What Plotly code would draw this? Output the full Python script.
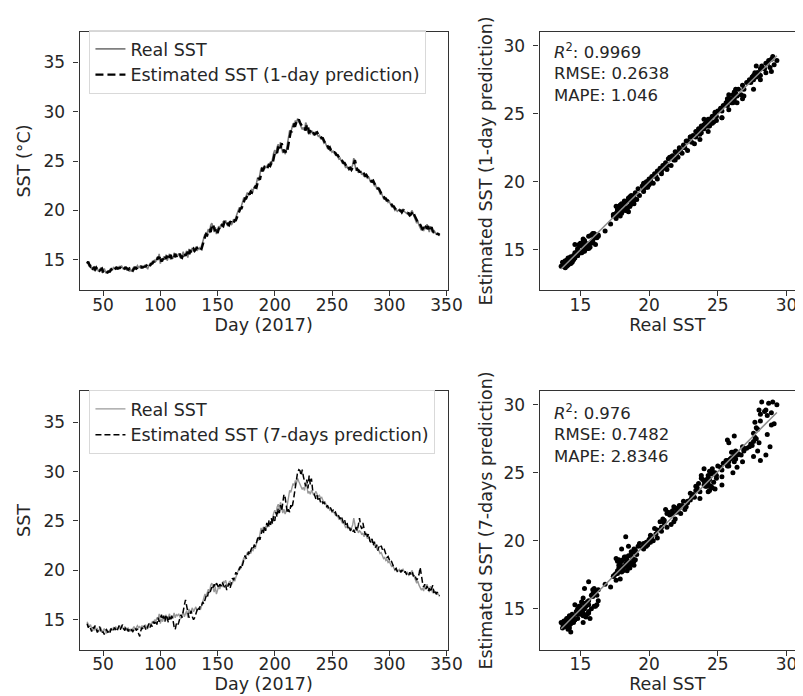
import numpy as np
import plotly.graph_objects as go

# ---------------- data ----------------
days = list(range(36, 345))

real_sst = [
    14.8, 14.6, 14.3, 14.5, 14.1, 14.2, 13.9, 14.3, 14.0, 14.1,
    13.8, 14.0, 14.2, 13.7, 13.9, 14.1, 13.8, 13.6, 13.9, 13.7,
    14.0, 14.1, 13.9, 14.2, 14.1, 14.3, 14.0, 14.2, 14.3, 14.1,
    14.4, 14.2, 14.0, 14.3, 14.1, 13.9, 14.2, 13.8, 14.0, 13.8,
    14.1, 14.3, 14.0, 14.2, 14.4, 14.2, 14.3, 14.1, 14.4, 14.2,
    14.3, 14.5, 14.2, 14.1, 14.4, 14.6, 14.5, 14.8, 14.7, 15.0,
    14.8, 15.2, 15.0, 15.6, 14.6, 15.1, 14.8, 15.3, 15.0, 15.5,
    14.9, 15.2, 15.6, 15.0, 15.3, 15.1, 15.7, 15.2, 15.5, 15.4,
    15.6, 15.3, 15.1, 15.4, 15.8, 15.3, 15.6, 15.9, 15.2, 16.1,
    15.6, 15.9, 16.2, 15.8, 16.0, 16.3, 15.9, 16.1, 16.2, 16.0,
    16.3, 16.8, 17.2, 17.6, 17.4, 17.9, 18.1, 17.7, 18.5, 18.7,
    18.2, 17.8, 18.3, 17.6, 18.0, 18.4, 18.1, 18.6, 18.3, 18.9,
    18.7, 19.0, 18.6, 18.4, 18.8, 18.9, 18.5, 18.7, 19.1, 18.9,
    19.3, 19.6, 19.9, 20.3, 20.1, 20.6, 20.9, 21.3, 21.1, 21.6,
    21.8, 21.5, 21.9, 21.7, 22.1, 22.0, 22.4, 22.2, 22.8, 23.3,
    23.0, 23.7, 24.3, 24.0, 24.4, 24.2, 24.5, 24.3, 24.7, 24.4,
    24.9, 24.6, 25.3, 25.8, 26.1, 25.7, 26.4, 26.7, 26.2, 26.9,
    26.3, 25.8, 26.2, 25.7, 26.0, 26.8, 27.6, 28.1, 27.9, 28.5,
    28.8, 28.6, 29.1, 28.9, 29.3, 29.0, 28.7, 28.5, 28.2, 28.4,
    28.1, 28.9, 28.6, 27.8, 28.0, 27.7, 28.1, 27.9, 27.6, 27.8,
    28.0, 27.7, 27.5, 27.6, 27.3, 27.4, 27.1, 26.8, 26.9, 26.5,
    26.3, 26.4, 26.1, 26.2, 25.9, 26.0, 25.8, 25.6, 25.7, 25.4,
    25.2, 25.3, 25.0, 24.8, 24.9, 24.6, 24.3, 24.5, 24.2, 24.4,
    24.1, 24.3, 24.6, 25.3, 24.8, 24.0, 24.2, 23.8, 24.0, 23.9,
    23.6, 23.8, 23.4, 23.7, 23.5, 23.2, 23.4, 23.0, 22.8, 23.1,
    22.7, 22.5, 22.6, 22.2, 22.3, 21.9, 21.7, 21.8, 21.4, 21.2,
    21.3, 21.0, 21.1, 20.8, 20.9, 20.6, 20.4, 20.5, 20.2, 20.0,
    20.1, 19.9, 20.0, 20.1, 19.8, 20.0, 20.1, 19.9, 19.8, 19.7,
    19.8, 19.5, 19.6, 19.8, 20.0, 19.6, 19.2, 19.0, 18.7, 18.9,
    18.5, 18.3, 18.0, 18.2, 17.9, 18.4, 18.1, 18.6, 18.0, 17.8,
    18.4, 17.9, 17.7, 18.0, 17.8, 17.6, 17.7, 17.5, 17.4,
]

est_1day = [
    14.6, 14.8, 14.5, 14.3, 14.4, 14.1, 14.2, 14.0, 14.2, 14.0,
    14.1, 13.9, 14.0, 14.1, 13.8, 13.9, 14.0, 13.8, 13.7, 13.8,
    13.8, 14.0, 14.1, 14.0, 14.2, 14.1, 14.2, 14.1, 14.2, 14.2,
    14.1, 14.3, 14.2, 14.1, 14.2, 14.1, 14.0, 14.1, 13.9, 14.0,
    13.9, 14.1, 14.2, 14.1, 14.2, 14.3, 14.2, 14.3, 14.2, 14.3,
    14.3, 14.3, 14.4, 14.2, 14.2, 14.4, 14.6, 14.6, 14.8, 14.8,
    15.0, 14.9, 15.3, 15.1, 15.4, 14.8, 15.1, 14.9, 15.3, 15.1,
    15.4, 15.0, 15.3, 15.5, 15.1, 15.3, 15.2, 15.6, 15.3, 15.5,
    15.4, 15.6, 15.3, 15.2, 15.5, 15.7, 15.4, 15.6, 15.8, 15.4,
    16.0, 15.7, 15.9, 16.1, 15.9, 16.0, 16.2, 16.0, 16.1, 16.2,
    16.1, 16.4, 16.9, 17.3, 17.6, 17.5, 17.9, 18.0, 17.8, 18.4,
    18.6, 18.2, 17.9, 18.2, 17.7, 18.1, 18.3, 18.2, 18.5, 18.4,
    18.8, 18.7, 18.9, 18.6, 18.5, 18.8, 18.8, 18.6, 18.7, 19.0,
    19.0, 19.3, 19.6, 19.9, 20.2, 20.2, 20.6, 20.9, 21.2, 21.2,
    21.6, 21.8, 21.6, 21.9, 21.8, 22.1, 22.1, 22.4, 22.3, 22.8,
    23.3, 23.1, 23.7, 24.2, 24.1, 24.4, 24.3, 24.5, 24.4, 24.6,
    24.5, 24.8, 24.7, 25.3, 25.8, 26.0, 25.8, 26.4, 26.6, 26.3,
    26.8, 26.4, 25.9, 26.1, 25.8, 26.1, 26.8, 27.5, 28.0, 28.0,
    28.4, 28.7, 28.6, 29.0, 28.9, 29.2, 28.9, 28.7, 28.5, 28.3,
    28.3, 28.1, 28.7, 28.5, 27.9, 28.0, 27.8, 28.0, 27.8, 27.7,
    27.8, 27.9, 27.7, 27.5, 27.5, 27.3, 27.3, 27.1, 26.8, 26.8,
    26.5, 26.3, 26.4, 26.1, 26.1, 25.9, 25.9, 25.8, 25.6, 25.6,
    25.4, 25.2, 25.2, 25.0, 24.8, 24.8, 24.6, 24.4, 24.5, 24.2,
    24.3, 24.1, 24.3, 24.7, 25.1, 24.6, 24.1, 24.1, 23.9, 23.9,
    23.9, 23.6, 23.7, 23.5, 23.6, 23.4, 23.3, 23.3, 23.0, 22.9,
    23.0, 22.7, 22.5, 22.5, 22.2, 22.2, 21.9, 21.7, 21.7, 21.4,
    21.2, 21.2, 21.0, 21.0, 20.8, 20.8, 20.6, 20.4, 20.4, 20.2,
    20.0, 20.0, 19.9, 20.0, 20.0, 19.8, 20.0, 20.0, 19.9, 19.8,
    19.7, 19.7, 19.5, 19.6, 19.8, 19.9, 19.5, 19.2, 19.0, 18.8,
    18.8, 18.5, 18.3, 18.1, 18.2, 18.0, 18.3, 18.2, 18.4, 18.0,
    17.9, 18.3, 17.9, 17.8, 17.9, 17.7, 17.6, 17.6, 17.5,
]

est_7day = [
    14.6, 14.2, 14.4, 14.0, 13.8, 14.3, 14.1, 14.4, 13.9, 13.7,
    14.0, 14.3, 13.9, 13.6, 13.8, 13.5, 13.9, 14.0, 13.7, 13.9,
    13.7, 14.1, 13.8, 13.9, 14.2, 14.0, 13.8, 14.1, 14.4, 14.0,
    14.2, 14.5, 14.1, 13.9, 14.3, 14.0, 13.8, 14.1, 13.9, 14.0,
    13.8, 14.0, 14.2, 13.9, 14.1, 13.6, 13.3, 13.9, 14.2, 14.0,
    14.4, 14.1, 13.9, 14.3, 14.6, 14.2, 14.5, 14.3, 14.8, 14.6,
    14.9, 14.5, 15.2, 14.8, 15.3, 15.5, 15.0, 15.4, 14.8, 15.5,
    15.2, 14.7, 15.3, 14.9, 15.4, 15.0, 14.3, 14.0, 14.6, 14.4,
    14.7, 15.0, 15.5, 15.2, 16.0, 16.5, 17.0, 16.4, 15.8, 15.2,
    15.6, 15.9, 15.3, 15.0, 15.2, 15.6, 16.1, 16.3, 16.0, 16.5,
    16.4, 16.8, 16.6, 17.1, 17.4, 17.2, 17.8, 17.6, 18.0, 18.3,
    18.1, 18.6, 18.3, 18.7, 18.5, 18.2, 18.6, 18.4, 18.8, 18.5,
    18.3, 18.6, 18.0, 18.4, 18.7, 18.2, 18.9, 19.2, 19.0, 19.4,
    19.8, 19.6, 19.9, 20.0, 20.4, 20.2, 20.7, 21.0, 21.5, 21.2,
    21.4, 21.9, 21.6, 22.0, 22.3, 22.1, 22.6, 22.4, 22.9, 23.2,
    23.5, 23.1, 23.6, 24.1, 23.7, 24.5, 24.0, 24.8, 24.3, 25.1,
    24.6, 25.3, 24.7, 25.5, 25.0, 25.9, 25.4, 26.3, 25.8, 26.6,
    26.0, 27.2, 27.7, 27.4, 26.5, 25.8, 26.2, 25.9, 26.6, 26.3,
    26.9, 27.8, 28.6, 29.4, 30.0, 30.2, 30.1, 29.6, 30.2, 29.5,
    28.8, 28.5, 29.2, 28.3, 29.6, 28.7, 29.3, 28.2, 27.9, 27.5,
    27.2, 27.6, 27.0, 27.3, 26.9, 27.1, 26.8, 26.9, 26.7, 26.4,
    26.6, 26.3, 26.5, 26.2, 26.0, 26.1, 25.8, 25.9, 25.5, 25.7,
    25.4, 25.2, 25.5, 25.0, 24.8, 25.1, 24.6, 24.9, 24.3, 24.5,
    24.0, 24.2, 23.9, 24.1, 23.8, 24.4, 24.0, 24.6, 25.3, 24.5,
    24.2, 24.8, 24.0, 23.6, 23.9, 23.4, 23.7, 23.0, 22.8, 23.2,
    22.5, 22.9, 22.3, 22.6, 22.0, 22.4, 22.2, 22.5, 22.1, 22.3,
    22.0, 21.6, 21.3, 21.4, 21.0, 20.8, 20.9, 20.5, 20.3, 20.1,
    20.2, 19.9, 20.0, 20.1, 19.8, 20.0, 19.9, 19.7, 19.9, 19.6,
    19.7, 19.5, 19.8, 19.6, 19.9, 19.4, 19.6, 19.3, 19.0, 19.2,
    19.6, 20.3, 19.4, 18.8, 18.3, 18.6, 18.1, 18.4, 17.9, 18.2,
    17.8, 18.1, 18.5, 17.7, 18.0, 17.6, 17.8, 17.5, 17.4,
]

day_ticks = [50, 100, 150, 200, 250, 300, 350]
sst_ticks = [15, 20, 25, 30, 35]
scatter_ticks = [15, 20, 25, 30]

metrics_1day = {"R2": "0.9969", "RMSE": "0.2638", "MAPE": "1.046"}
metrics_7day = {"R2": "0.976", "RMSE": "0.7482", "MAPE": "2.8346"}

assert len(days) == len(real_sst) == len(est_1day) == len(est_7day)

# ---------------- layout helpers ----------------
W, H = 803, 696
FONT = "DejaVu Sans"
TXT = "#262626"
AX = "#333333"
TICK_FS = 17
LAB_FS = 17.5


def dx(a, b):
    return [a / W, b / W]


def dy(top, bottom):
    return [1 - bottom / H, 1 - top / H]


fig = go.Figure()

# top-left time series
fig.add_trace(go.Scatter(x=days, y=real_sst, mode="lines", name="Real SST",
                         line=dict(color="#7f7f7f", width=1.6),
                         xaxis="x", yaxis="y", legend="legend"))
fig.add_trace(go.Scatter(x=days, y=est_1day, mode="lines",
                         name="Estimated SST (1-day prediction)",
                         line=dict(color="black", width=2.4, dash="8px,4px"),
                         xaxis="x", yaxis="y", legend="legend"))

# bottom-left time series
fig.add_trace(go.Scatter(x=days, y=real_sst, mode="lines", name="Real SST",
                         line=dict(color="#9a9a9a", width=1.4),
                         xaxis="x3", yaxis="y3", legend="legend2"))
fig.add_trace(go.Scatter(x=days, y=est_7day, mode="lines",
                         name="Estimated SST (7-days prediction)",
                         line=dict(color="black", width=1.5, dash="6px,3px"),
                         xaxis="x3", yaxis="y3", legend="legend2"))

# scatter panels
real_arr = np.array(real_sst)
for est, xa, ya in [(est_1day, "x2", "y2"), (est_7day, "x4", "y4")]:
    est_arr = np.array(est)
    fig.add_trace(go.Scatter(x=real_sst, y=est, mode="markers",
                             marker=dict(color="black", size=5),
                             showlegend=False, xaxis=xa, yaxis=ya))
    slope, inter = np.polyfit(real_arr, est_arr, 1)
    lx = [real_arr.min(), real_arr.max()]
    fig.add_trace(go.Scatter(x=lx, y=[slope * v + inter for v in lx],
                             mode="lines", line=dict(color="#8c8c8c", width=1.5),
                             showlegend=False, xaxis=xa, yaxis=ya))

axis_common = dict(showline=True, mirror=True, linecolor=AX, linewidth=1.3,
                   ticks="outside", ticklen=5, tickwidth=1.2, tickcolor=AX,
                   showgrid=False, zeroline=False,
                   tickfont=dict(family=FONT, size=TICK_FS, color=TXT))
xcommon = dict(axis_common, ticklabelstandoff=-6)
ycommon = dict(axis_common, ticklabelstandoff=5)


def title(text, standoff):
    return dict(text=text, font=dict(family=FONT, size=LAB_FS, color=TXT), standoff=standoff)


legend_style = dict(xanchor="left", yanchor="top",
                    bgcolor="rgba(255,255,255,0.8)", bordercolor="#d9d9d9", borderwidth=1,
                    font=dict(family=FONT, size=LAB_FS, color=TXT), tracegroupgap=0)

layout = dict(
    width=W, height=H,
    margin=dict(l=0, r=0, t=0, b=0),
    paper_bgcolor="white", plot_bgcolor="white",
    font=dict(family=FONT, size=LAB_FS, color=TXT),
    xaxis=dict(xcommon, domain=dx(73, 448), range=[29.5, 351], tickvals=day_ticks,
               anchor="y", title=title("Day (2017)", 2)),
    yaxis=dict(ycommon, domain=dy(24, 282), range=[11.93, 38.07], tickvals=sst_ticks,
               anchor="x", title=title("SST (°C)", 8)),
    xaxis2=dict(xcommon, domain=dx(541.7, 802), range=[12.03, 30.62],
                tickvals=scatter_ticks, anchor="y2", title=title("Real SST", 0)),
    yaxis2=dict(ycommon, domain=dy(24, 282), range=[12.06, 31.0],
                tickvals=scatter_ticks, anchor="x2",
                title=title("Estimated SST (1-day prediction)", 6)),
    xaxis3=dict(xcommon, domain=dx(73, 448), range=[29.5, 351], tickvals=day_ticks,
                anchor="y3", title=title("Day (2017)", 2)),
    yaxis3=dict(ycommon, domain=dy(383.3, 641.7), range=[11.96, 38.14],
                tickvals=sst_ticks, anchor="x3", title=title("SST", 8)),
    xaxis4=dict(xcommon, domain=dx(541.7, 802), range=[12.03, 30.62],
                tickvals=scatter_ticks, anchor="y4", title=title("Real SST", 0)),
    yaxis4=dict(ycommon, domain=dy(383.3, 641.7), range=[12.0, 30.98],
                tickvals=scatter_ticks, anchor="x4",
                title=title("Estimated SST (7-days prediction)", 6)),
    legend=dict(legend_style, x=83 / W, y=1 - 22 / H),
    legend2=dict(legend_style, x=83 / W, y=1 - 382 / H),
)
fig.update_layout(**layout)


def add_metrics(metrics, ymid):
    text = (f"<i>R</i><sup>2</sup>: {metrics['R2']}<br>"
            f"RMSE: {metrics['RMSE']}<br>"
            f"MAPE: {metrics['MAPE']}")
    fig.add_annotation(text=text, xref="paper", yref="paper",
                       x=554 / W, y=1 - ymid / H, xanchor="left", yanchor="middle",
                       align="left", showarrow=False,
                       font=dict(family=FONT, size=16.5, color=TXT))


add_metrics(metrics_1day, 65)
add_metrics(metrics_7day, 426)

fig.write_html("out.html", config={"displayModeBar": False})
